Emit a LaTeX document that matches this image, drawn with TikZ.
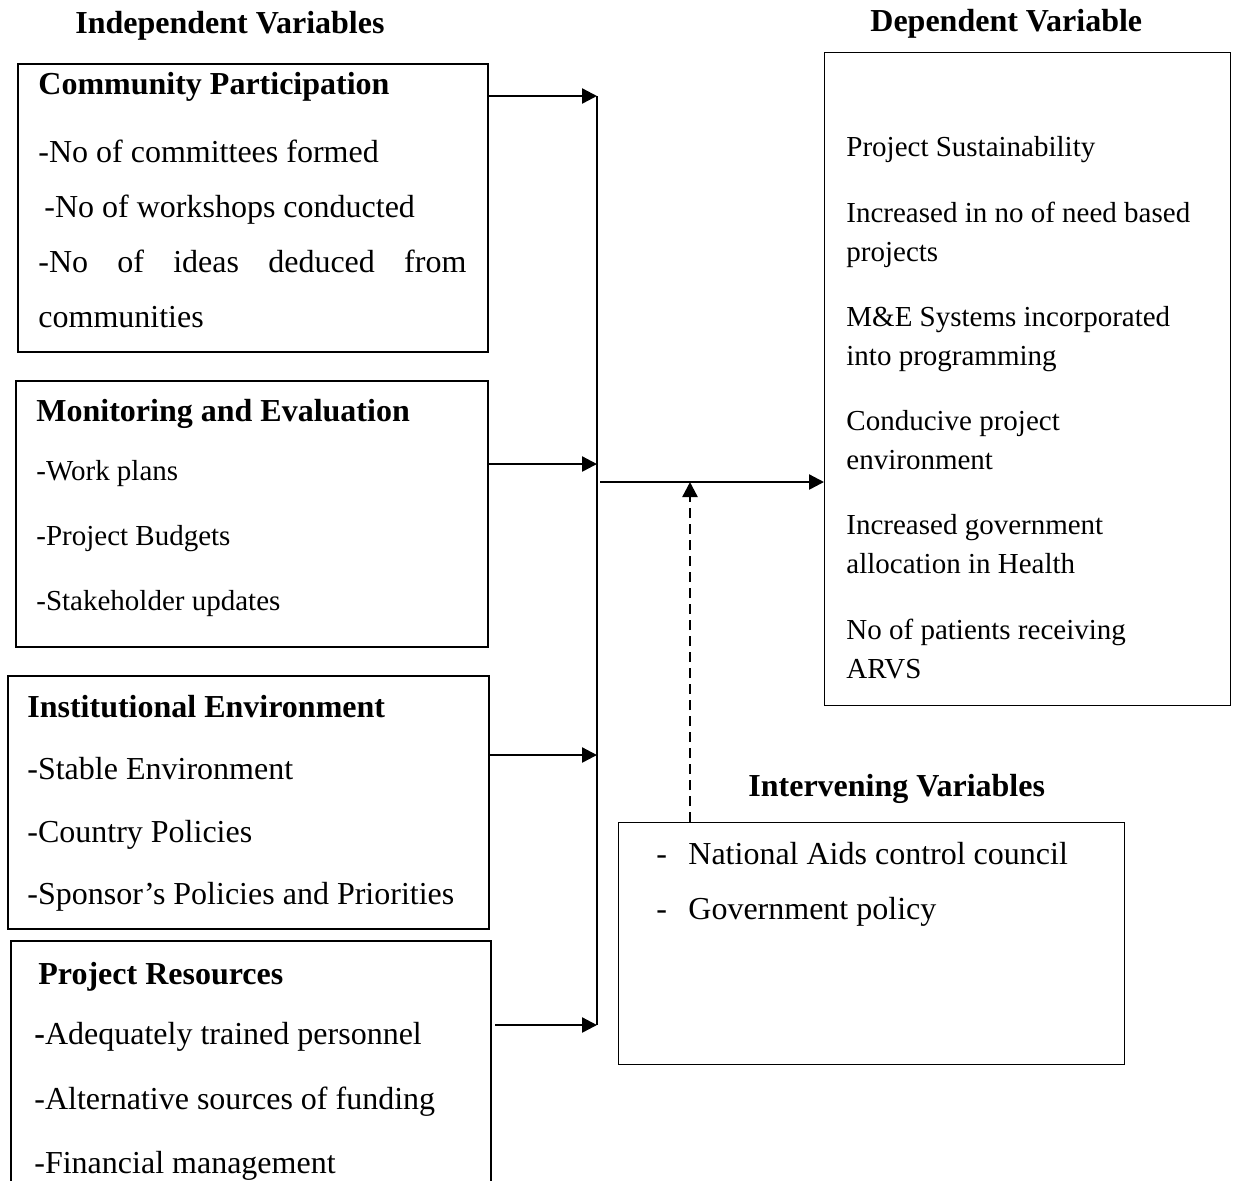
\documentclass[tikz,border=0pt]{standalone}
\usepackage{fontspec}
\setmainfont{Liberation Serif}
\usetikzlibrary{arrows.meta}

\begin{document}
\begin{tikzpicture}[x=0.5pt,y=-0.5pt,
    hd/.style={anchor=base west,inner sep=0,font=\bfseries\fontsize{16}{19}\selectfont},
    big/.style={anchor=base west,inner sep=0,font=\fontsize{16}{19}\selectfont},
    sml/.style={anchor=base west,inner sep=0,font=\fontsize{14.5}{17}\selectfont},
    varbox/.style={draw,line width=1.1pt,anchor=north west,inner sep=0},
    thinbox/.style={draw,line width=0.6pt,anchor=north west,inner sep=0},
    link/.style={line width=1.2pt,-{Triangle[length=7.5pt,width=7.5pt]}}]
    \useasboundingbox (0,0) rectangle (1236,1180);
    % titles
    \node[hd] (indT) at (75,33) {Independent Variables};
    \node[hd] (depT) at (870,31) {Dependent Variable};
    \node[hd] (intT) at (748,796) {Intervening Variables};
    % boxes
    \node[varbox,minimum width=235pt,minimum height=144pt] (cp) at (17,63) {};
    \node[varbox,minimum width=236pt,minimum height=133pt] (me) at (15,380) {};
    \node[varbox,minimum width=240.5pt,minimum height=126.5pt] (ie) at (7,675) {};
    \node[varbox,minimum width=240pt,minimum height=150pt] (pr) at (10,940) {};
    \node[thinbox,minimum width=203pt,minimum height=326.5pt] (dv) at (824,52) {};
    \node[thinbox,minimum width=253pt,minimum height=121pt] (iv) at (618,822) {};
    % community participation
    \node[hd] (cp0) at (38,94) {Community Participation};
    \node[big] (cp1) at (38,162) {-No of committees formed};
    \node[big] (cp2) at (44,217) {-No of workshops conducted};
    \node[big] (cp3) at (38,272) {\makebox[214pt][s]{-No of ideas deduced from}};
    \node[big] (cp4) at (38,327) {communities};
    % monitoring and evaluation
    \node[hd] (me0) at (36,421) {Monitoring and Evaluation};
    \node[sml] (me1) at (36,480) {-Work plans};
    \node[sml] (me2) at (36,545) {-Project Budgets};
    \node[sml] (me3) at (36,610) {-Stakeholder updates};
    % institutional environment
    \node[hd] (ie0) at (27,717) {Institutional Environment};
    \node[big] (ie1) at (27,779) {-Stable Environment};
    \node[big] (ie2) at (27,842) {-Country Policies};
    \node[big] (ie3) at (27,904) {-Sponsor’s Policies and Priorities};
    % project resources
    \node[hd] (pr0) at (38,984) {Project Resources};
    \node[big] (pr1) at (34,1044) {\textbf{-}Adequately trained personnel};
    \node[big] (pr2) at (34,1109) {-Alternative sources of funding};
    \node[big] (pr3) at (34,1173) {-Financial management};
    % dependent variable
    \node[sml] (dv1) at (846,156) {Project Sustainability};
    \node[sml] (dv2) at (846,222) {Increased in no of need based};
    \node[sml] (dv3) at (846,261) {projects};
    \node[sml] (dv4) at (846,326) {M\&E Systems incorporated};
    \node[sml] (dv5) at (846,365) {into programming};
    \node[sml] (dv6) at (846,430) {Conducive project};
    \node[sml] (dv7) at (846,469) {environment};
    \node[sml] (dv8) at (846,534) {Increased government};
    \node[sml] (dv9) at (846,573) {allocation in Health};
    \node[sml] (dv10) at (846,639) {No of patients receiving};
    \node[sml] (dv11) at (846,678) {ARVS};
    % intervening variables
    \node[big] (ivd1) at (656,864) {-};
    \node[big] (iv1) at (688,864) {National Aids control council};
    \node[big] (ivd2) at (656,919) {-};
    \node[big] (iv2) at (688,919) {Government policy};
    % connectors
    \coordinate (busT) at (597,96);
    \coordinate (busM) at (597,464);
    \coordinate (busI) at (597,755);
    \coordinate (busB) at (597,1025);
    \coordinate (out) at (600,482);
    \coordinate (jn) at (690,482);
    \draw[line width=1.2pt] (busT) -- (busB);
    \draw[link] (cp.east |- busT) -- (busT);
    \draw[link] (me.east |- busM) -- (busM);
    \draw[link] (ie.east |- busI) -- (busI);
    \draw[link] ([xshift=1.5pt]pr.east |- busB) -- (busB);
    \draw[link] (out) -- (dv.west |- out);
    \draw[link,dash pattern=on 5pt off 3pt] (iv.north -| jn) -- (jn);
\end{tikzpicture}
\end{document}
